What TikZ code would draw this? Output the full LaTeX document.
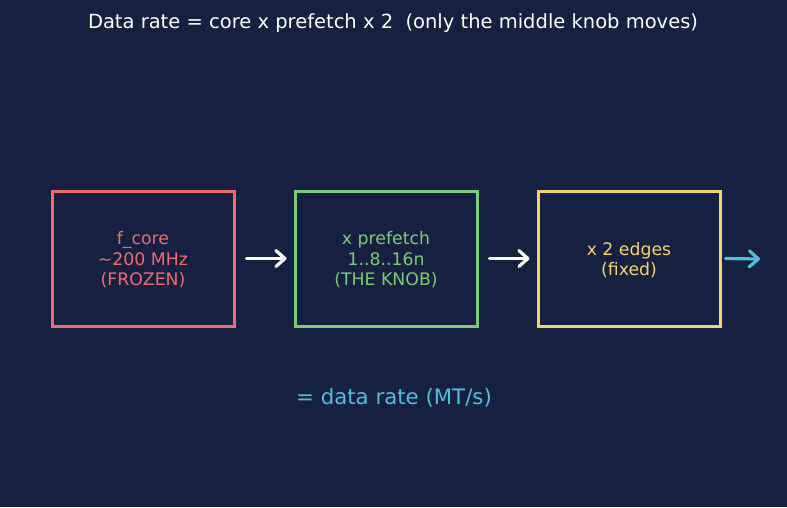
\documentclass[tikz,border=0pt]{standalone}
\usepackage{fontspec}
\setmainfont{DejaVu Sans}
\usetikzlibrary{arrows.meta}
\definecolor{bg}{HTML}{162040}
\definecolor{cred}{HTML}{EF6B6E}
\definecolor{cgreen}{HTML}{7CCB76}
\definecolor{cyellow}{HTML}{F3D46E}
\definecolor{ccyan}{HTML}{4FC0DB}
\tikzset{
  stagebox/.style={draw=#1, line width=3pt, minimum width=182pt, minimum height=135pt, inner sep=0pt},
  stagetext/.style={text=#1, align=center, font=\fontsize{17.3}{20.5}\selectfont},
  flow/.style={line width=3.2pt, line cap=round, -{Straight Barb[length=9pt,width=16pt,line width=3.2pt,round]}}
}
\begin{document}
\begin{tikzpicture}[x=1pt,y=-1pt]
\fill[bg] (0,0) rectangle (787,507);
\useasboundingbox (0,0) rectangle (787,507);
\node[text=white, font=\fontsize{19.5}{22}\selectfont] (title) at (393,23.5) {Data rate = core x prefetch x 2\ \ (only the middle knob moves)};
\node[stagebox=cred] (core) at (143,258.5) {};
\node[stagebox=cgreen] (pre) at (386,258.5) {};
\node[stagebox=cyellow] (edge) at (629,258.5) {};
\node[stagetext=cred] (coret) at ([yshift=-1.5pt]core.center) {f\_core\\\textasciitilde200 MHz\\(FROZEN)};
\node[stagetext=cgreen] (pret) at ([yshift=-1.5pt]pre.center) {x prefetch\\1..8..16n\\(THE KNOB)};
\node[stagetext=cyellow] (edget) at ([yshift=-1.5pt]edge.center) {x 2 edges\\(fixed)};
\coordinate (out) at (760,259);
\draw[flow, white] ([xshift=11pt]core.east) -- ([xshift=-7pt]pre.west);
\draw[flow, white] ([xshift=11pt]pre.east) -- ([xshift=-7pt]edge.west);
\draw[flow, ccyan] ([xshift=4pt]edge.east) -- (out);
\node[text=ccyan, font=\fontsize{21.3}{24}\selectfont] (rate) at (394,397.5) {= data rate (MT/s)};
\end{tikzpicture}
\end{document}
